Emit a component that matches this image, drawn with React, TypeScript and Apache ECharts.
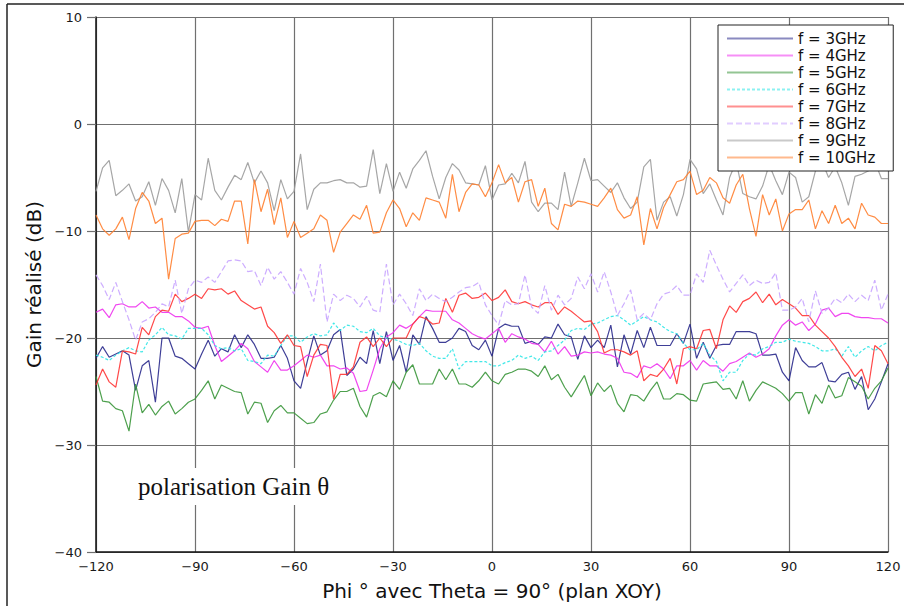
import React, { useEffect, useRef } from "react";
import * as echarts from "echarts";

const phi: number[] = Array.from({ length: 121 }, (_, i) => -120 + 2 * i);

const f3 = [
  -21.9, -20.8, -21.8, -21.5, -21.2, -21.6, -24.9, -22.6, -22.1, -26.0, -20.0, -20.0, -21.7, -21.9, -22.4, -22.9, -21.5, -20.2, -21.7, -21.0, -21.3, -19.7, -20.9, -19.7, -20.6, -21.9, -21.9, -21.8, -20.7, -21.9, -24.0,
  -24.7, -22.2, -19.8, -21.6, -21.2, -19.7, -19.2, -23.5, -22.9, -21.8, -22.4, -19.3, -22.4, -19.4, -22.1, -20.7, -23.2, -19.7, -20.6, -18.0, -19.1, -20.4, -20.4, -20.0, -19.1, -19.4, -20.7, -21.1, -20.2, -21.7,
  -19.1, -18.7, -18.9, -18.9, -20.5, -20.3, -20.6, -19.9, -20.0, -18.7, -19.7, -19.9, -22.0, -19.8, -20.9, -20.2, -20.9, -18.8, -22.7, -19.7, -21.5, -19.3, -20.9, -19.0, -20.7, -20.7, -20.7, -19.6, -20.5, -18.7,
  -21.9, -20.4, -21.9, -20.7, -20.6, -20.6, -19.4, -19.4, -19.4, -19.6, -21.6, -21.6, -21.5, -23.2, -24.0, -20.9, -22.1, -22.7, -22.7, -22.3, -24.0, -24.1, -23.4, -23.2, -24.8, -23.6, -26.7, -25.7, -24.1, -22.4,
];
const f4 = [
  -17.6, -17.3, -18.1, -16.9, -16.8, -17.1, -17.1, -16.6, -17.2, -17.1, -17.6, -17.6, -18.0, -18.0, -18.4, -19.0, -19.1, -18.9, -20.7, -22.2, -21.7, -21.2, -20.5, -21.0, -22.2, -22.7, -23.2, -22.1, -23.0, -23.0, -22.6,
  -22.1, -21.6, -21.8, -21.6, -22.6, -22.6, -22.9, -22.8, -23.3, -25.0, -24.9, -23.0, -21.0, -19.9, -19.5, -18.8, -19.1, -18.7, -18.0, -17.4, -17.5, -17.5, -17.5, -18.3, -18.6, -19.1, -19.6, -19.9, -20.1, -19.6,
  -19.1, -20.4, -19.6, -19.9, -20.1, -20.5, -20.6, -21.3, -20.3, -21.5, -20.8, -21.7, -21.6, -21.3, -21.4, -21.3, -21.5, -21.6, -21.9, -23.2, -23.3, -23.7, -22.6, -22.8, -22.4, -22.9, -23.8, -22.6, -22.6, -22.1,
  -23.0, -22.1, -22.6, -22.6, -23.1, -22.4, -22.2, -21.8, -21.4, -21.8, -21.5, -21.0, -19.8, -18.8, -18.3, -18.8, -18.5, -19.3, -18.7, -17.4, -17.2, -18.0, -17.7, -17.7, -18.0, -18.1, -18.1, -18.2, -18.2, -18.6,
];
const f5 = [
  -23.6, -25.9, -26.0, -26.6, -26.8, -28.7, -24.3, -27.0, -26.2, -27.2, -26.4, -25.9, -27.1, -26.6, -26.0, -25.7, -24.9, -24.0, -25.7, -24.4, -24.7, -25.0, -25.1, -27.1, -26.0, -26.1, -27.9, -26.8, -26.3, -27.0, -27.0,
  -27.5, -28.0, -27.9, -27.1, -26.9, -25.8, -25.0, -25.0, -24.7, -26.4, -27.4, -25.4, -25.1, -25.5, -24.0, -24.8, -23.2, -22.5, -24.3, -24.3, -24.3, -22.9, -23.9, -22.9, -24.3, -24.3, -24.6, -24.0, -23.2, -24.0,
  -24.3, -23.4, -23.2, -22.9, -22.9, -23.1, -23.6, -22.6, -23.9, -23.4, -24.6, -25.5, -24.5, -23.5, -25.4, -24.2, -25.0, -24.4, -26.1, -26.9, -25.3, -25.4, -25.9, -24.9, -24.1, -25.7, -25.7, -25.2, -25.3, -25.8,
  -25.9, -24.3, -24.2, -24.1, -24.8, -24.7, -25.7, -24.0, -25.9, -24.9, -24.1, -24.4, -24.7, -25.2, -25.9, -25.1, -25.1, -27.1, -25.3, -26.1, -24.4, -25.6, -25.4, -23.7, -24.1, -24.5, -25.7, -24.7, -24.0, -22.8,
];
const f6 = [
  -21.6, -21.8, -22.1, -21.6, -21.2, -20.9, -21.2, -21.3, -20.2, -19.7, -19.0, -19.7, -19.8, -20.1, -19.1, -19.1, -19.1, -19.7, -20.7, -21.0, -20.9, -21.2, -21.0, -22.1, -22.2, -22.4, -21.6, -21.7, -20.7, -19.8, -19.8,
  -20.4, -19.9, -19.6, -19.8, -19.7, -18.6, -19.3, -18.8, -18.9, -19.4, -19.5, -19.1, -19.8, -20.0, -20.1, -20.3, -20.6, -20.7, -20.5, -21.2, -21.7, -21.9, -21.9, -21.0, -22.9, -22.2, -22.2, -22.2, -22.2, -22.6,
  -22.6, -22.3, -22.1, -21.6, -21.9, -21.7, -22.1, -21.3, -21.2, -20.7, -20.2, -19.3, -19.1, -19.2, -18.7, -18.6, -18.3, -18.0, -17.9, -18.3, -18.8, -18.4, -18.0, -18.3, -18.5, -19.0, -19.4, -19.6, -20.5, -21.1,
  -21.1, -20.5, -21.6, -22.2, -24.0, -23.2, -23.2, -22.1, -21.5, -21.6, -21.0, -20.8, -20.4, -20.4, -20.1, -20.3, -20.4, -20.5, -20.8, -21.2, -21.2, -21.0, -21.7, -20.8, -21.8, -21.2, -20.8, -21.2, -20.7, -20.4,
];
const f7 = [
  -24.4, -22.9, -24.1, -24.6, -21.2, -21.3, -21.5, -19.0, -19.7, -18.0, -17.4, -17.5, -15.9, -16.6, -16.3, -15.9, -16.3, -15.4, -15.5, -15.4, -15.9, -15.6, -16.5, -16.9, -17.3, -17.1, -18.9, -19.5, -20.5, -19.7, -20.7,
  -20.8, -23.6, -21.6, -20.6, -20.7, -25.7, -23.4, -23.4, -22.7, -20.4, -19.9, -20.8, -20.0, -20.8, -20.0, -20.0, -20.0, -18.7, -18.0, -18.2, -18.7, -18.6, -16.3, -17.6, -16.0, -15.8, -16.3, -16.2, -15.8, -16.5,
  -16.2, -15.5, -16.6, -16.8, -16.6, -16.9, -17.1, -16.7, -16.7, -17.8, -17.1, -17.5, -18.0, -18.5, -18.4, -19.4, -21.4, -21.1, -21.1, -21.3, -21.6, -21.2, -24.0, -23.4, -23.6, -22.9, -21.9, -24.3, -21.0, -20.8,
  -21.0, -19.3, -19.2, -21.0, -18.3, -17.0, -17.6, -16.6, -16.3, -15.7, -16.7, -15.9, -16.9, -16.4, -16.8, -17.2, -17.9, -17.9, -18.8, -19.4, -20.0, -20.8, -21.8, -22.6, -23.6, -22.9, -24.7, -20.7, -21.2, -22.4,
];
const f8 = [
  -14.1, -15.1, -16.4, -14.8, -16.6, -18.3, -20.2, -18.5, -18.2, -17.6, -16.8, -17.1, -14.6, -17.7, -15.4, -14.6, -14.8, -14.3, -14.8, -13.8, -12.8, -12.7, -12.8, -13.8, -13.7, -15.1, -13.4, -14.5, -13.8, -14.8, -15.9,
  -13.5, -14.8, -16.6, -13.1, -18.5, -15.9, -16.5, -16.0, -16.3, -17.1, -16.1, -17.4, -17.6, -13.1, -16.9, -15.9, -16.8, -17.9, -15.4, -16.5, -15.9, -16.3, -16.6, -16.2, -15.7, -15.3, -15.2, -14.8, -16.9, -17.9,
  -18.8, -16.5, -16.9, -16.8, -14.1, -17.1, -17.7, -15.1, -17.4, -16.0, -16.9, -16.3, -14.3, -15.4, -14.0, -15.7, -13.8, -15.7, -17.9, -16.8, -15.5, -18.3, -17.7, -18.3, -16.8, -15.9, -15.7, -15.1, -16.0, -16.0,
  -14.0, -14.8, -11.8, -13.2, -14.5, -15.7, -14.9, -14.1, -15.1, -14.6, -14.9, -14.8, -13.9, -17.4, -17.4, -17.1, -16.3, -18.5, -15.6, -17.7, -17.2, -16.3, -16.7, -15.9, -16.6, -16.0, -16.5, -14.6, -17.4, -15.9,
];
const f9 = [
  -6.3, -4.1, -3.4, -6.7, -6.2, -5.6, -7.2, -6.8, -5.4, -7.6, -5.1, -6.2, -8.3, -5.1, -10.1, -6.6, -7.1, -3.2, -6.2, -7.1, -5.9, -4.8, -5.2, -3.6, -5.5, -4.4, -5.5, -8.1, -5.2, -7.0, -6.3,
  -2.8, -8.0, -6.1, -5.5, -5.5, -5.3, -5.2, -5.5, -5.5, -5.9, -5.8, -2.4, -6.5, -3.7, -6.3, -4.5, -6.0, -4.2, -3.4, -2.5, -4.9, -7.0, -5.0, -3.7, -4.3, -5.5, -5.6, -5.7, -3.9, -7.1,
  -5.7, -5.6, -4.6, -5.5, -3.5, -7.3, -8.2, -7.4, -7.4, -8.0, -4.5, -7.7, -5.5, -3.2, -5.3, -5.2, -5.8, -6.4, -5.5, -6.9, -7.9, -7.3, -4.0, -3.3, -9.0, -7.3, -6.8, -8.6, -6.6, -3.3,
  -4.2, -6.5, -5.6, -7.1, -8.5, -5.0, -3.5, -6.5, -6.8, -7.0, -5.8, -3.8, -5.3, -6.6, -4.5, -5.0, -7.3, -6.8, -4.4, -3.5, -5.0, -4.0, -5.5, -7.6, -4.9, -4.7, -4.4, -3.5, -5.1, -5.1,
];
const f10 = [
  -8.5, -9.8, -10.4, -9.8, -8.7, -10.8, -7.9, -6.4, -7.2, -9.3, -8.8, -14.5, -10.7, -10.3, -10.2, -9.1, -9.0, -9.0, -9.5, -8.9, -9.1, -7.2, -7.2, -11.2, -5.2, -8.2, -6.1, -9.4, -6.9, -10.6, -9.1,
  -10.6, -10.2, -9.8, -8.5, -9.0, -12.0, -10.1, -9.3, -8.5, -8.9, -7.6, -10.2, -10.1, -8.3, -7.1, -7.9, -9.6, -8.3, -9.0, -6.9, -7.1, -7.3, -8.8, -4.7, -8.2, -6.4, -5.6, -5.7, -6.8, -5.5,
  -3.8, -5.5, -5.0, -7.3, -5.4, -5.2, -7.7, -6.0, -9.3, -9.9, -7.5, -7.7, -7.2, -7.3, -7.5, -7.7, -6.9, -6.0, -8.0, -8.8, -8.5, -6.8, -11.3, -7.9, -9.8, -7.8, -6.6, -5.4, -5.2, -4.4,
  -6.6, -6.2, -5.0, -5.5, -6.9, -7.4, -5.7, -4.7, -7.9, -10.5, -6.6, -8.5, -7.0, -10.0, -8.4, -8.0, -8.0, -7.1, -9.8, -8.1, -9.3, -7.6, -9.3, -8.8, -9.8, -7.4, -8.5, -8.7, -9.3, -9.3,
];

const seriesNames = ["f = 3GHz", "f = 4GHz", "f = 5GHz", "f = 6GHz", "f = 7GHz", "f = 8GHz", "f = 9GHz", "f = 10GHz"];
const seriesValues = [f3, f4, f5, f6, f7, f8, f9, f10];
const seriesColors = ["#2a2a8c", "#ee33ee", "#3a963a", "#2ee6e6", "#ff3535", "#c8a4ff", "#9c9c9c", "#ff8030"];
const seriesDash: (number[] | "solid")[] = ["solid", "solid", "solid", [3, 2], "solid", [6, 3], "solid", "solid"];

const xTicks = [-120, -90, -60, -30, 0, 30, 60, 90, 120];
const yTicks = [-40, -30, -20, -10, 0, 10];

const fmt = (v: number) => (v < 0 ? "\u2212" + Math.abs(v) : String(v));

export default function App() {
  const ref = useRef<HTMLDivElement>(null);
  useEffect(() => {
    if (!ref.current) return;
    const chart = echarts.init(ref.current, null, { renderer: "svg" });
    const series = seriesNames.map((name, k) => ({
      name,
      type: "line",
      data: phi.map((p, i) => [p, seriesValues[k][i]]),
      symbol: "none",
      showSymbol: false,
      lineStyle: { color: seriesColors[k], width: 1.2, type: seriesDash[k], opacity: 0.9 },
      itemStyle: { color: seriesColors[k] },
      z: 2,
    }));
    chart.setOption({
      animation: false,
      backgroundColor: "#fff",
      grid: { left: 96, top: 17, right: 16, bottom: 53, containLabel: false },
      xAxis: {
        type: "value",
        min: xTicks[0],
        max: xTicks[xTicks.length - 1],
        interval: 30,
        name: "Phi \u00b0 avec Theta = 90\u00b0 (plan XOY)",
        nameLocation: "middle",
        nameGap: 29,
        nameTextStyle: { fontFamily: "DejaVu Sans", fontSize: 20, color: "#111" },
        axisLine: { onZero: false, lineStyle: { color: "#111", width: 1.5 } },
        axisTick: { show: false },
        axisLabel: { formatter: fmt, fontFamily: "DejaVu Sans", fontSize: 13, color: "#1a1a1a", margin: 8 },
        splitLine: { show: true, lineStyle: { color: "#707070", width: 1.2 } },
      },
      yAxis: {
        type: "value",
        min: yTicks[0],
        max: yTicks[yTicks.length - 1],
        interval: 10,
        name: "Gain r\u00e9alis\u00e9 (dB)",
        nameLocation: "middle",
        nameGap: 51,
        nameTextStyle: { fontFamily: "DejaVu Sans", fontSize: 20, color: "#111" },
        axisLine: { onZero: false, lineStyle: { color: "#111", width: 1.5 } },
        axisTick: { show: true, inside: false, length: 9, lineStyle: { color: "#707070", width: 1.2 } },
        axisLabel: { formatter: fmt, fontFamily: "DejaVu Sans", fontSize: 13, color: "#1a1a1a", margin: 14 },
        splitLine: { show: true, lineStyle: { color: "#707070", width: 1.2 } },
      },
      legend: {
        orient: "vertical",
        left: 718,
        top: 25,
        itemWidth: 66,
        itemHeight: 12,
        itemGap: 2,
        padding: [6, 18, 6, 8],
        backgroundColor: "#fff",
        borderColor: "#222",
        borderWidth: 1,
        borderRadius: 0,
        lineStyle: { opacity: 0.55 },
        itemStyle: { opacity: 0, borderWidth: 0 },
        textStyle: { fontFamily: "DejaVu Sans", fontSize: 15, lineHeight: 12, color: "#111" },
        data: seriesNames,
      },
      graphic: [
        {
          type: "text",
          left: 132,
          top: 468,
          z: 10,
          style: {
            text: "polarisation Gain \u03b8",
            fontFamily: "Liberation Serif",
            fontSize: 25,
            fill: "#111",
            backgroundColor: "#fff",
            padding: [6, 6, 6, 6],
          },
        },
        { type: "line", shape: { x1: 7, y1: 4, x2: 904, y2: 4 }, style: { stroke: "#222", lineWidth: 1.5 }, z: 10 },
        { type: "line", shape: { x1: 7, y1: 4, x2: 7, y2: 606 }, style: { stroke: "#222", lineWidth: 1.5 }, z: 10 },
      ],
      series,
    });
    return () => chart.dispose();
  }, []);
  return <div ref={ref} style={{ width: 904, height: 606, position: "absolute", left: 0, top: 0 }} />;
}
